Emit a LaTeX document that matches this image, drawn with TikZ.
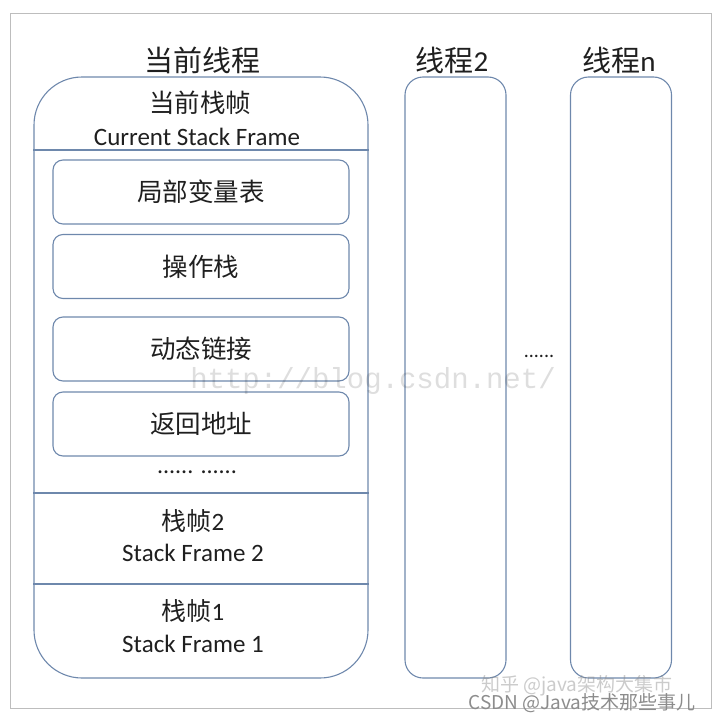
\documentclass[tikz,border=0pt]{standalone}
\usepackage{fontspec}
\setmainfont{Carlito}
\setmonofont{Liberation Mono}
\newfontfamily\cjk{Noto Sans CJK SC}
\usetikzlibrary{positioning}
\definecolor{boxline}{HTML}{6E88AC}
\definecolor{txt}{HTML}{1F1F1F}
\definecolor{pageline}{HTML}{BDBDBD}
\definecolor{wmark}{HTML}{8C8C8C}
\tikzset{
  thread/.style={draw=boxline, line width=1.1pt, rounded corners=18pt,
    minimum width=101pt, minimum height=601pt, inner sep=0pt},
  slot/.style={draw=boxline, line width=1.1pt, rounded corners=10pt,
    minimum width=296pt, minimum height=64pt, inner sep=0pt,
    text=txt, font=\fontsize{25.5}{27}\selectfont\cjk},
  title/.style={text=txt, inner sep=0pt, font=\fontsize{29}{31}\selectfont\cjk},
  label/.style={text=txt, inner sep=0pt, font=\fontsize{25}{27}\selectfont}
}
\begin{document}
\begin{tikzpicture}[x=1pt,y=-1pt]
  \useasboundingbox (0,0) rectangle (720,720);
  \draw[pageline, line width=.8pt] (10,13) rectangle (711,708);
  % threads
  \node[thread, minimum width=334pt, rounded corners=48pt] (cur) at (201,377.5) {};
  \node[thread] (t2) at (455.5,377.5) {};
  \node[thread] (tn) at (621,377.5) {};
  \node[title] (curtitle) at (202,60) {当前线程};
  \node[title] (t2title) at (452,60) {线程{\rmfamily 2}};
  \node[title] (tntitle) at (619,60) {线程{\rmfamily n}};
  \node[text=txt, font=\fontsize{20}{22}\selectfont] (gap) at (539,356) {......};
  % current frame
  \node[label, font=\fontsize{25.5}{27}\selectfont\cjk] (cf) at (200,103) {当前栈帧};
  \node[label] (cfen) at (197,137) {Current Stack Frame};
  \draw[boxline, line width=1.1pt] (cur.west |- 0,150) -- (cur.east |- 0,150);
  \node[slot] (locals) at (201,192) {局部变量表};
  \node[slot] (opstack) at (201,266.5) {操作栈};
  \node[slot] (dynlink) at (201,349) {动态链接};
  \node[slot] (retaddr) at (201,424) {返回地址};
  \node[text=txt, font=\fontsize{24}{26}\selectfont] (more) at (197,472) {...... ......};
  % older frames
  \draw[boxline, line width=1.1pt] (cur.west |- 0,493) -- (cur.east |- 0,493);
  \node[label] (f2) at (193,521) {{\cjk 栈帧}2};
  \node[label] (f2en) at (193,553) {Stack Frame 2};
  \draw[boxline, line width=1.1pt] (cur.west |- 0,584) -- (cur.east |- 0,584);
  \node[label] (f1) at (193,611) {{\cjk 栈帧}1};
  \node[label] (f1en) at (193,644) {Stack Frame 1};
  % watermarks
  \node[text=black, opacity=.13, font=\fontsize{29}{30}\selectfont\ttfamily] (url) at (373,381) {http://blog.csdn.net/};
  \node[text=wmark, opacity=.45, font=\fontsize{19}{20}\selectfont\cjk] (zh) at (577,686) {知乎 @java架构大集市};
  \node[text=wmark, font=\fontsize{19}{20}\selectfont\cjk] (csdn) at (582,703) {CSDN @Java技术那些事儿};
\end{tikzpicture}
\end{document}
